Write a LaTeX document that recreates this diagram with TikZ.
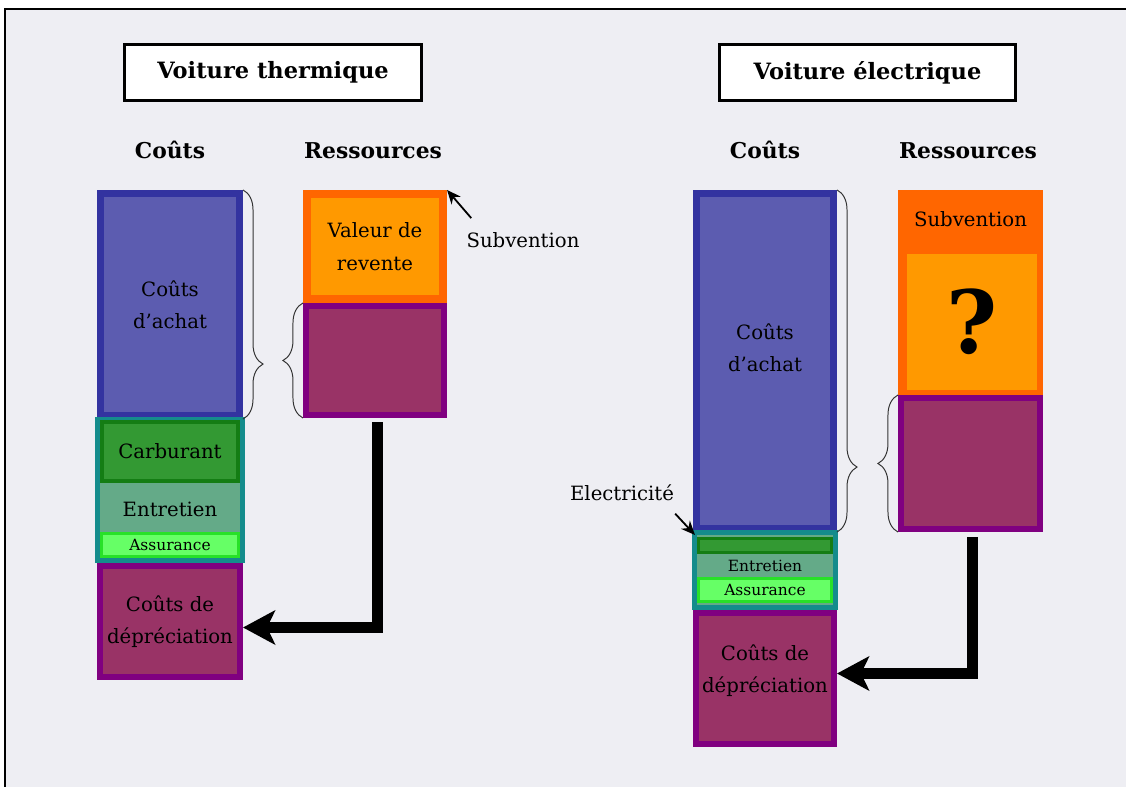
\documentclass[tikz,border=0pt]{standalone}
\usepackage{fontspec}
\setmainfont{DejaVu Serif}
\usetikzlibrary{arrows.meta,decorations.pathreplacing}

\definecolor{fond}{RGB}{238,238,243}
\definecolor{bleu}{RGB}{92,92,176}
\definecolor{bleufonce}{RGB}{51,51,160}
\definecolor{sarcelle}{RGB}{20,140,140}
\definecolor{vert}{RGB}{51,153,51}
\definecolor{vertfonce}{RGB}{20,125,20}
\definecolor{vertgris}{RGB}{100,170,136}
\definecolor{vertclair}{RGB}{102,255,102}
\definecolor{vertvif}{RGB}{40,225,40}
\definecolor{prune}{RGB}{153,51,102}
\definecolor{pourpre}{RGB}{128,0,128}
\definecolor{orangefonce}{RGB}{255,102,0}
\definecolor{orangeclair}{RGB}{255,153,0}

\tikzset{
  bloc/.style={draw, rectangle, inner sep=0pt, align=center, font=\fontsize{14}{23}\selectfont},
  titre/.style={draw, line width=0.075cm, fill=white, minimum height=1.4cm, font=\fontsize{16}{18}\selectfont\bfseries},
  entete/.style={font=\fontsize{15.5}{18}\selectfont\bfseries},
  petit/.style={font=\fontsize{11}{13}\selectfont},
  accolade/.style={decorate, decoration={brace, amplitude=0.5cm, aspect=#1}, line width=0.7pt, black!80},
  accolade/.default=0.5,
  grosse fleche/.style={line width=0.275cm, -{Stealth[length=0.8cm,width=0.85cm,inset=0.2cm]}},
  fine fleche/.style={line width=0.045cm, -{Stealth[length=0.35cm,width=0.3cm]}}
}

\begin{document}
\begin{tikzpicture}[x=0.025cm,y=-0.025cm]
    \useasboundingbox (0,0) rectangle (1126,787);
    \fill[white] (0,0) rectangle (1126,787);
    \fill[fond] (5,9) rectangle (1126,787);
    \draw[line width=0.07cm] (5,787) -- (5,9) -- (1126,9);

    % voiture thermique
    \node[titre, minimum width=7.425cm] (titre1) at (273,72.5) {Voiture thermique};
    \node[entete] (couts1) at (170,150) {Coûts};
    \node[entete] (ress1) at (373,151) {Ressources};

    \node[bloc, line width=0.175cm, draw=bleufonce, fill=bleu, minimum width=3.475cm, minimum height=5.55cm] (achat1) at (170,304.5) {Coûts\\d’achat};
    \node[bloc, line width=0.125cm, draw=sarcelle, fill=vertgris, minimum width=3.625cm, minimum height=3.525cm] (groupe1) at (170,490) {};
    \node[bloc, line width=0.1cm, draw=vertfonce, fill=vert, minimum width=3.4cm, minimum height=1.475cm] (carb1) at (170,451.5) {Carburant};
    \node[bloc, draw=none] (entr1) at (170,509) {Entretien};
    \node[bloc, petit, line width=0.075cm, draw=vertvif, fill=vertclair, minimum width=3.425cm, minimum height=0.575cm] (assu1) at (170,545) {Assurance};
    \node[bloc, line width=0.15cm, draw=pourpre, fill=prune, minimum width=3.5cm, minimum height=2.775cm] (depr1) at (170,621.5) {Coûts de\\dépréciation};

    \node[bloc, line width=0.2cm, draw=orangefonce, fill=orangeclair, minimum width=3.4cm, minimum height=2.625cm] (rev1) at (375,246.5) {Valeur de\\revente};
    \node[bloc, line width=0.15cm, draw=pourpre, fill=prune, minimum width=3.45cm, minimum height=2.725cm] (res1) at (375,360.5) {};

    \node[bloc, draw=none] (sub1) at (523,240) {Subvention};
    \draw[fine fleche] ([xshift=0.125cm,yshift=0.35cm]sub1.north west) -- (rev1.north east);

    \draw[accolade=0.76] (achat1.north east) -- (achat1.south east);
    \draw[accolade] (res1.south west) -- (res1.north west);
    \draw[grosse fleche, shorten <=0.1cm] ([xshift=0.05cm]res1.south) |- ([yshift=-0.15cm]depr1.east);

    % voiture electrique
    \node[titre, minimum width=7.4cm] (titre2) at (867.5,72.5) {Voiture électrique};
    \node[entete] (couts2) at (765,150) {Coûts};
    \node[entete] (ress2) at (968,151) {Ressources};

    \node[bloc, line width=0.175cm, draw=bleufonce, fill=bleu, minimum width=3.425cm, minimum height=8.375cm] (achat2) at (765,361) {};
    \node[bloc, draw=none] (achat2txt) at (765,348) {Coûts\\d’achat};
    \node[bloc, line width=0.125cm, draw=sarcelle, fill=vertgris, minimum width=3.525cm, minimum height=1.875cm] (groupe2) at (765,570) {};
    \node[bloc, line width=0.075cm, draw=vertfonce, fill=vert, minimum width=3.325cm, minimum height=0.35cm] (elec2) at (765,545.5) {};
    \node[bloc, petit, draw=none] (entr2) at (765,566) {Entretien};
    \node[bloc, petit, line width=0.075cm, draw=vertvif, fill=vertclair, minimum width=3.325cm, minimum height=0.575cm] (assu2) at (765,590) {Assurance};
    \node[bloc, line width=0.15cm, draw=pourpre, fill=prune, minimum width=3.45cm, minimum height=3.275cm] (depr2) at (765,678.5) {};
    \node[bloc, draw=none] (depr2txt) at (765,671) {Coûts de\\dépréciation};

    \node[bloc, draw=none, fill=orangefonce, minimum width=3.625cm, minimum height=5.175cm] (sub2) at (970.5,293.5) {};
    \node[bloc, draw=none] (sub2txt) at (970.5,219) {Subvention};
    \node[bloc, draw=none, fill=orangeclair, minimum width=3.25cm, minimum height=3.4cm, font=\fontsize{62}{62}\selectfont\bfseries] (question) at (972,322) {?};
    \node[bloc, line width=0.15cm, draw=pourpre, fill=prune, minimum width=3.475cm, minimum height=3.275cm] (res2) at (970.5,463.5) {};

    \node[bloc, draw=none] (elec) at (622,493) {Electricité};
    \draw[fine fleche] ([xshift=0.025cm,yshift=-0.31cm]elec.south east) -- ([xshift=0.075cm,yshift=-0.125cm]groupe2.north west);

    \draw[accolade=0.81] (achat2.north east) -- (achat2.south east);
    \draw[accolade] (res2.south west) -- (res2.north west);
    \draw[grosse fleche, shorten <=0.125cm] ([xshift=0.0375cm]res2.south) |- ([yshift=0.125cm]depr2.east);
\end{tikzpicture}
\end{document}
